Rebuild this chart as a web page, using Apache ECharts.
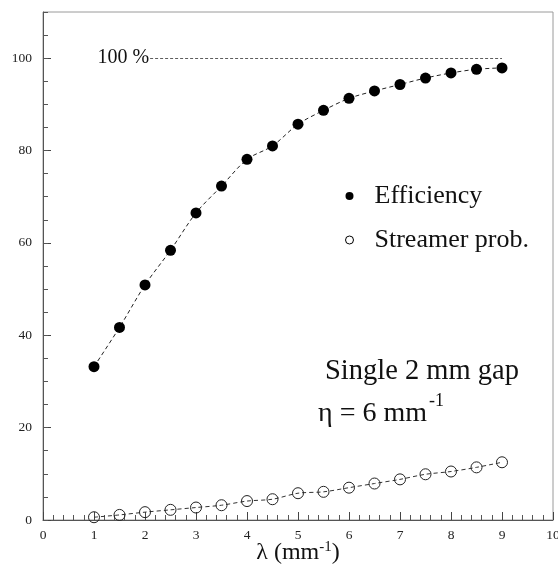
<!DOCTYPE html>
<html>
<head>
<meta charset="utf-8">
<script src="https://cdn.jsdelivr.net/npm/echarts@6/dist/echarts.min.js"></script>
<style>
html,body{margin:0;padding:0;background:#fff;}
#c{width:558px;height:568px;}
</style>
</head>
<body>
<div id="c"></div>
<script>
const lambdaValues = [1, 1.5, 2, 2.5, 3, 3.5, 4, 4.5, 5, 5.5, 6, 6.5, 7, 7.5, 8, 8.5, 9];
const efficiency = [33.2, 41.7, 50.9, 58.4, 66.5, 72.3, 78.1, 81.0, 85.7, 88.7, 91.3, 92.9, 94.3, 95.7, 96.8, 97.6, 97.9];
const streamerProb = [0.6, 1.1, 1.7, 2.2, 2.7, 3.2, 4.1, 4.5, 5.8, 6.1, 7.0, 7.9, 8.8, 9.9, 10.5, 11.4, 12.5];
const referenceLine = { from: 2.1, to: 9.0, value: 100, label: '100 %' };
const seriesNames = ['Efficiency', 'Streamer prob.'];

const SERIF = '"Liberation Serif", "DejaVu Serif", serif';
const chart = echarts.init(document.getElementById('c'), null, { renderer: 'canvas' });

const toPairs = (ys) => lambdaValues.map((x, i) => [x, ys[i]]);

chart.setOption({
  animation: false,
  backgroundColor: '#fff',
  grid: {
    left: 43, right: 5, top: 12, bottom: 48,
    containLabel: false, outerBoundsMode: 'none',
    show: true, borderColor: '#9a9a9a', borderWidth: 1, backgroundColor: 'transparent'
  },
  xAxis: {
    type: 'value', min: 0, max: 10, interval: 1,
    name: '{a|λ (mm}{s|-1}{a|)}',
    nameLocation: 'middle', nameGap: 20, nameMoveOverlap: false,
    nameTextStyle: {
      rich: {
        a: { fontFamily: SERIF, fontSize: 24, color: '#111' },
        s: { fontFamily: SERIF, fontSize: 15, color: '#111', verticalAlign: 'top', padding: [0, 0, 10, 0] }
      }
    },
    axisLine: { lineStyle: { color: '#555', width: 1 } },
    axisTick: { inside: true, length: 8, lineStyle: { color: '#444' } },
    minorTick: { show: true, splitNumber: 5, length: 5, lineStyle: { color: '#555' } },
    axisLabel: { fontFamily: SERIF, fontSize: 13.5, color: '#222', margin: 8 },
    splitLine: { show: false }
  },
  yAxis: [
    {
      type: 'value', min: 0, max: 110, interval: 20,
      axisLine: { show: true, lineStyle: { color: '#555', width: 1 } },
      axisTick: { inside: true, length: 8, lineStyle: { color: '#444' } },
      axisLabel: { fontFamily: SERIF, fontSize: 13.5, color: '#222', margin: 11, showMaxLabel: false },
      splitLine: { show: false }
    },
    {
      type: 'value', min: 0, max: 110, interval: 5, position: 'left',
      axisLine: { show: false },
      axisTick: { inside: true, length: 5, lineStyle: { color: '#555' } },
      axisLabel: { show: false },
      splitLine: { show: false }
    }
  ],
  legend: {
    orient: 'vertical', left: 340, top: 178,
    itemWidth: 8, itemHeight: 8, itemGap: 18,
    textStyle: { fontFamily: SERIF, fontSize: 26, color: '#111', padding: [0, 0, 0, 16], lineHeight: 26 },
    data: [
      { name: seriesNames[0], icon: 'circle', itemStyle: { color: '#000', borderWidth: 0 } },
      { name: seriesNames[1], icon: 'circle', itemStyle: { color: '#fff', borderColor: '#000', borderWidth: 1 } }
    ]
  },
  series: [
    {
      name: seriesNames[0], type: 'line', yAxisIndex: 0,
      data: toPairs(efficiency), smooth: 0.3,
      symbol: 'circle', symbolSize: 11,
      itemStyle: { color: '#000' },
      lineStyle: { color: '#222', width: 1, type: [4, 3] },
      markLine: {
        silent: true, symbol: 'none',
        lineStyle: { color: '#333', width: 0.8, type: [3, 2] },
        label: {
          show: true, position: 'start', formatter: referenceLine.label,
          fontFamily: SERIF, fontSize: 20, color: '#111', distance: 1
        },
        data: [[
          { coord: [referenceLine.from, referenceLine.value] },
          { coord: [referenceLine.to, referenceLine.value] }
        ]]
      }
    },
    {
      name: seriesNames[1], type: 'line', yAxisIndex: 0,
      data: toPairs(streamerProb), smooth: 0.3,
      symbol: 'circle', symbolSize: 11,
      itemStyle: { color: 'rgba(0,0,0,0)', borderColor: '#222', borderWidth: 1 },
      lineStyle: { color: '#333', width: 1, type: [4, 3] }
    }
  ],
  graphic: [
    {
      type: 'text', x: 325, y: 372,
      style: { text: 'Single 2 mm gap', fontFamily: SERIF, fontSize: 28.5, fill: '#111', verticalAlign: 'middle' }
    },
    {
      type: 'text', x: 318, y: 414,
      style: { text: 'η = 6 mm', fontFamily: SERIF, fontSize: 28, fill: '#111', verticalAlign: 'middle' }
    },
    {
      type: 'text', x: 429, y: 401,
      style: { text: '-1', fontFamily: SERIF, fontSize: 18, fill: '#111', verticalAlign: 'middle' }
    }
  ]
});
</script>
</body>
</html>
